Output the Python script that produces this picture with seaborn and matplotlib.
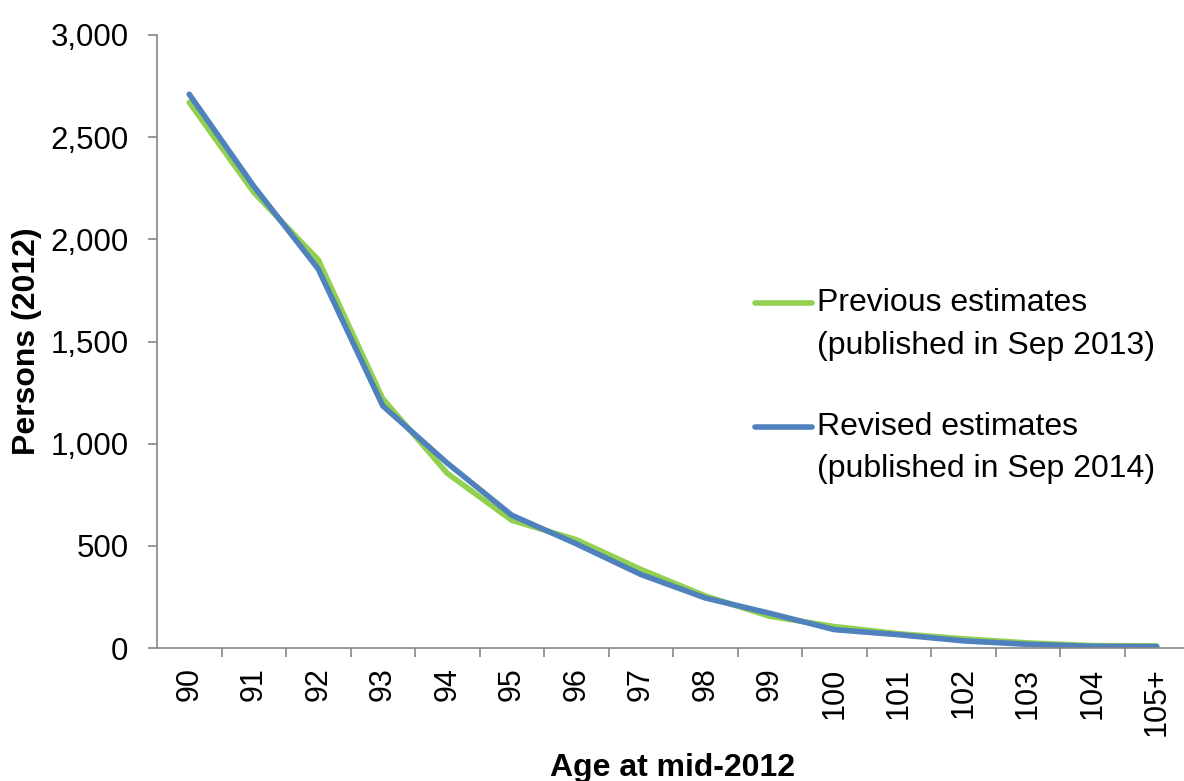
import matplotlib
matplotlib.use("Agg")
import matplotlib.pyplot as plt
import seaborn as sns
import pandas as pd
from matplotlib.ticker import FuncFormatter, FixedLocator
from matplotlib.legend_handler import HandlerLine2D

ages = ["90", "91", "92", "93", "94", "95", "96", "97", "98", "99",
        "100", "101", "102", "103", "104", "105+"]
previous = [2670, 2230, 1900, 1220, 855, 625, 530, 385, 255, 155,
            105, 70, 45, 25, 12, 10]
revised = [2710, 2260, 1855, 1185, 905, 650, 510, 360, 245, 170,
           90, 65, 35, 18, 8, 7]
series_labels = ["Previous estimates\n(published in Sep 2013)",
                 "Revised estimates\n(published in Sep 2014)"]
colors = ["#92D050", "#4F81BD"]

df = pd.DataFrame({
    "Age": ages * 2,
    "Persons": previous + revised,
    "Series": [series_labels[0]] * len(ages) + [series_labels[1]] * len(ages),
})

sns.set_style("white")
plt.rcParams["font.family"] = ["Liberation Sans", "DejaVu Sans"]
plt.rcParams["text.color"] = "black"
plt.rcParams["axes.labelcolor"] = "black"
plt.rcParams["xtick.color"] = "black"
plt.rcParams["ytick.color"] = "black"

fig = plt.figure(figsize=(11.84, 7.81), dpi=100)
ax = fig.add_axes([157 / 1184, 133 / 781, 1032 / 1184, 613 / 781])

sns.lineplot(data=df, x="Age", y="Persons", hue="Series",
             palette=dict(zip(series_labels, colors)), linewidth=4,
             sort=False, ax=ax, legend=False, solid_capstyle="round")

ax.set_xlim(-0.5, len(ages) - 0.5)
ax.set_ylim(0, 3000)
ax.set_yticks(range(0, 3001, 500))
ax.yaxis.set_major_formatter(FuncFormatter(lambda v, p: f"{int(v):,}"))

ax.set_xticks(range(len(ages)))
ax.set_xticklabels(ages, rotation=90)
ax.xaxis.set_minor_locator(FixedLocator([i + 0.5 for i in range(len(ages))]))
ax.tick_params(axis="x", which="major", length=0, pad=14, labelsize=22)
ax.tick_params(axis="x", which="minor", length=6.5, width=1.2,
               color="#868686", direction="out", bottom=True)
ax.tick_params(axis="y", length=6.5, width=1.2, color="#868686",
               labelcolor="black", direction="out", left=True,
               labelsize=22.5, pad=14)

for s in ["top", "right"]:
    ax.spines[s].set_visible(False)
for s in ["left", "bottom"]:
    ax.spines[s].set_color("#868686")
    ax.spines[s].set_linewidth(1.2)

ax.set_xlabel("Age at mid-2012", fontsize=23, fontweight="bold", labelpad=12)
ax.set_ylabel("Persons (2012)", fontsize=23, fontweight="bold", labelpad=6)


class UpHandler(HandlerLine2D):
    def create_artists(self, legend, orig_handle, xdescent, ydescent,
                       width, height, fontsize, trans):
        arts = super().create_artists(legend, orig_handle, xdescent, ydescent,
                                      width, height, fontsize, trans)
        for a in arts:
            a.set_ydata([y + 0.68 * fontsize for y in a.get_ydata()])
        return arts


handles = [plt.Line2D([], [], color=c, linewidth=4, solid_capstyle="round")
           for c in colors]
leg = ax.legend(handles, series_labels, loc="upper left",
                bbox_to_anchor=(755 / 1184, 1 - 288 / 781),
                bbox_transform=fig.transFigure, frameon=False, fontsize=23,
                handlelength=1.78, handletextpad=0.16, labelspacing=1.6,
                borderpad=0, borderaxespad=0,
                handler_map={plt.Line2D: UpHandler()})
for t in leg.get_texts():
    t.set_linespacing(1.55)
    t.set_color("black")

fig.savefig("out.png", dpi=100)
